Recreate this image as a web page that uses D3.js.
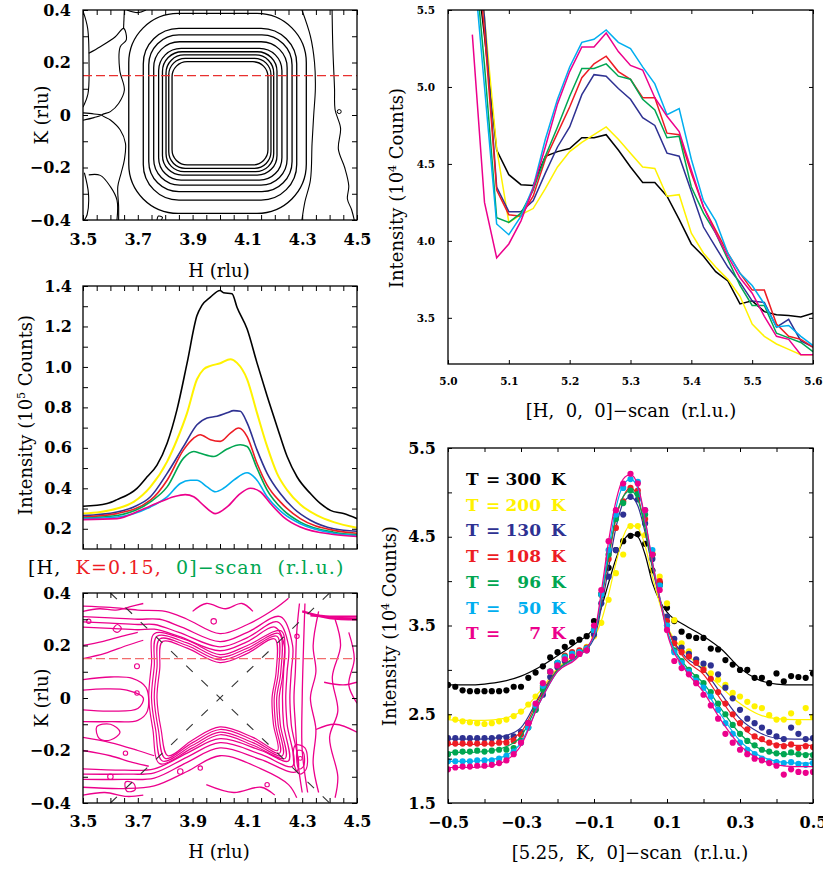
<!DOCTYPE html>
<html>
<head>
<meta charset="utf-8">
<script src="https://cdnjs.cloudflare.com/ajax/libs/d3/7.8.5/d3.min.js"></script>
<style>
  body { margin: 0; background: #fff; }
  svg { display: block; }
  text { font-family: "DejaVu Serif", serif; fill: #000; }
</style>
</head>
<body>
<svg id="fig" width="823" height="869"></svg>
<script>
// ---------- values ----------
var temps = ["300", "200", "130", "108", "96", "50", "7"];
var colors = ["#000000", "#fff200", "#2e3192", "#ed1c24", "#00a651", "#00aeef", "#ec008c"];

// top-left map, closed contours as boxes (H from/to, K from/to, corner radius)
var ringH0 = [3.825, 3.813, 3.803, 3.79, 3.776, 3.758, 3.74, 3.72, 3.667];
var ringH1 = [4.175, 4.186, 4.196, 4.208, 4.226, 4.245, 4.263, 4.28, 4.315];
var ringK0 = [-0.19, -0.203, -0.216, -0.229, -0.248, -0.267, -0.292, -0.324, -0.375];
var ringK1 = [0.203, 0.216, 0.229, 0.241, 0.254, 0.279, 0.305, 0.33, 0.387];
var ringR = [0.055, 0.06, 0.066, 0.072, 0.082, 0.095, 0.11, 0.13, 0.18];
// top-left map, open outer contours [H, K]
var openA = [
    [[3.521, 0.235], [3.563, 0.26], [3.618, 0.298], [3.648, 0.33], [3.658, 0.286], [3.636, 0.26], [3.634, 0.171], [3.651, 0.095], [3.63, 0.044], [3.6, 0.013], [3.569, 0.0], [3.6, -0.019], [3.636, -0.057], [3.655, -0.108], [3.651, -0.171], [3.639, -0.222], [3.627, -0.273], [3.63, -0.349], [3.63, -0.4]],
    [[3.648, 0.33], [3.651, 0.4]],
    [[3.502, 0.39], [3.517, 0.33], [3.522, 0.2], [3.518, 0.08], [3.5, 0.03]],
    [[3.5, 0.008], [3.54, 0.004], [3.569, 0.0], [3.54, -0.01], [3.5, -0.02]],
    [[3.505, -0.22], [3.52, -0.3], [3.515, -0.38], [3.505, -0.4]],
    [[3.521, -0.228], [3.563, -0.23], [3.6, -0.273], [3.624, -0.324], [3.624, -0.4]],
    [[4.299, 0.4], [4.33, 0.3], [4.345, 0.2], [4.348, 0.1], [4.342, 0.0], [4.336, -0.108], [4.33, -0.248], [4.31, -0.33], [4.299, -0.4]],
    [[4.409, 0.4], [4.412, 0.25], [4.418, 0.1], [4.42, 0.02], [4.44, -0.05], [4.432, -0.13], [4.455, -0.2], [4.47, -0.27], [4.465, -0.32], [4.48, -0.36], [4.49, -0.4]],
    [[3.77, -0.4], [3.775, -0.385], [3.79, -0.39], [3.785, -0.4]],
    [[3.66, 0.4], [3.7, 0.39], [3.73, 0.4]]
];

// middle-left: [H, I (1e5 counts)] per temperature
var b300 = [[3.5, 0.311], [3.588, 0.325], [3.624, 0.344], [3.697, 0.40], [3.734, 0.457], [3.77, 0.515], [3.807, 0.623], [3.843, 0.789], [3.88, 1.02], [3.916, 1.254], [3.934, 1.304], [3.965, 1.345], [4.0, 1.378], [4.013, 1.367], [4.044, 1.362], [4.062, 1.295], [4.099, 1.187], [4.135, 1.02], [4.172, 0.856], [4.208, 0.706], [4.245, 0.557], [4.281, 0.457], [4.33, 0.374], [4.366, 0.325], [4.403, 0.291], [4.451, 0.275], [4.5, 0.25]];
var b200 = [[3.5, 0.275], [3.563, 0.283], [3.624, 0.30], [3.685, 0.333], [3.746, 0.407], [3.807, 0.532], [3.843, 0.64], [3.88, 0.773], [3.916, 0.939], [3.94, 0.988], [3.965, 1.005], [4.001, 1.018], [4.038, 1.038], [4.062, 1.02], [4.099, 0.939], [4.135, 0.773], [4.172, 0.607], [4.208, 0.474], [4.245, 0.391], [4.293, 0.32], [4.354, 0.266], [4.415, 0.233], [4.5, 0.205]];
var b130 = [[3.5, 0.265], [3.624, 0.283], [3.685, 0.308], [3.746, 0.358], [3.807, 0.474], [3.867, 0.607], [3.916, 0.714], [3.953, 0.748], [3.989, 0.756], [4.026, 0.773], [4.05, 0.784], [4.074, 0.781], [4.099, 0.723], [4.135, 0.59], [4.172, 0.474], [4.22, 0.374], [4.269, 0.30], [4.33, 0.242], [4.415, 0.20], [4.5, 0.188]];
var b108 = [[3.5, 0.258], [3.624, 0.275], [3.746, 0.341], [3.807, 0.44], [3.867, 0.59], [3.904, 0.648], [3.928, 0.665], [3.965, 0.64], [4.001, 0.632], [4.038, 0.673], [4.068, 0.698], [4.099, 0.656], [4.135, 0.524], [4.172, 0.416], [4.22, 0.333], [4.293, 0.25], [4.415, 0.192], [4.5, 0.178]];
var b96 = [[3.5, 0.253], [3.624, 0.266], [3.746, 0.333], [3.807, 0.407], [3.867, 0.549], [3.904, 0.582], [3.928, 0.573], [3.977, 0.557], [4.026, 0.594], [4.074, 0.615], [4.099, 0.607], [4.135, 0.499], [4.172, 0.391], [4.232, 0.291], [4.293, 0.233], [4.415, 0.183], [4.5, 0.17]];
var b50 = [[3.5, 0.25], [3.624, 0.258], [3.746, 0.308], [3.807, 0.358], [3.855, 0.424], [3.892, 0.44], [3.916, 0.44], [3.953, 0.407], [3.983, 0.383], [4.013, 0.40], [4.05, 0.44], [4.099, 0.477], [4.135, 0.44], [4.172, 0.358], [4.232, 0.275], [4.293, 0.225], [4.415, 0.178], [4.5, 0.167]];
var b7 = [[3.5, 0.245], [3.624, 0.25], [3.709, 0.291], [3.782, 0.333], [3.831, 0.358], [3.873, 0.369], [3.904, 0.358], [3.94, 0.316], [3.983, 0.275], [4.026, 0.308], [4.074, 0.374], [4.111, 0.40], [4.147, 0.383], [4.184, 0.325], [4.232, 0.258], [4.293, 0.209], [4.415, 0.172], [4.5, 0.162]];

// bottom-left map (7 K), contours [H, K]
var holeC = [
    [[3.79, 0.215], [3.88, 0.19], [4.0, 0.135], [4.1, 0.17], [4.2, 0.225], [4.205, 0.1], [4.19, 0.0], [4.195, -0.1], [4.21, -0.2], [4.12, -0.15], [4.0, -0.11], [3.9, -0.16], [3.81, -0.22], [3.785, -0.12], [3.77, 0.0], [3.78, 0.11]],
    [[3.78, 0.225], [3.88, 0.2], [4.0, 0.145], [4.1, 0.18], [4.208, 0.235], [4.213, 0.1], [4.198, 0.0], [4.203, -0.1], [4.218, -0.21], [4.12, -0.16], [4.0, -0.12], [3.9, -0.17], [3.8, -0.23], [3.775, -0.12], [3.76, 0.0], [3.77, 0.115]],
    [[3.77, 0.235], [3.88, 0.21], [4.0, 0.155], [4.1, 0.19], [4.216, 0.245], [4.222, 0.1], [4.207, 0.0], [4.212, -0.1], [4.228, -0.22], [4.12, -0.17], [4.0, -0.13], [3.9, -0.18], [3.79, -0.24], [3.765, -0.12], [3.75, 0.0], [3.76, 0.12]],
    [[3.76, 0.245], [3.88, 0.22], [4.0, 0.165], [4.1, 0.2], [4.224, 0.255], [4.23, 0.1], [4.216, 0.0], [4.22, -0.1], [4.238, -0.23], [4.12, -0.18], [4.0, -0.14], [3.9, -0.19], [3.78, -0.25], [3.755, -0.12], [3.74, 0.0], [3.75, 0.13]]
];
var openC = [
    [[3.5, 0.27], [3.6, 0.265], [3.7, 0.26], [3.76, 0.262], [3.85, 0.235], [4.0, 0.18], [4.1, 0.215], [4.2, 0.27], [4.235, 0.2], [4.232, 0.1], [4.228, 0.0], [4.232, -0.1], [4.25, -0.24], [4.15, -0.2], [4.0, -0.155], [3.88, -0.21], [3.76, -0.27], [3.65, -0.275], [3.5, -0.27]],
    [[3.5, 0.29], [3.6, 0.285], [3.7, 0.28], [3.76, 0.28], [3.85, 0.25], [4.0, 0.195], [4.1, 0.23], [4.21, 0.29], [4.25, 0.2], [4.245, 0.1], [4.24, 0.0], [4.245, -0.1], [4.265, -0.26], [4.15, -0.215], [4.0, -0.17], [3.88, -0.225], [3.76, -0.285], [3.65, -0.29], [3.5, -0.29]],
    [[3.5, 0.31], [3.6, 0.305], [3.7, 0.30], [3.78, 0.30], [3.86, 0.27], [4.0, 0.215], [4.1, 0.25], [4.22, 0.31], [4.265, 0.2], [4.26, 0.1], [4.255, 0.0], [4.26, -0.1], [4.28, -0.28], [4.15, -0.235], [4.0, -0.19], [3.88, -0.245], [3.76, -0.305], [3.65, -0.31], [3.5, -0.31]],
    [[3.5, 0.35], [3.6, 0.345], [3.7, 0.335], [3.8, 0.33], [3.88, 0.3], [4.0, 0.245], [4.1, 0.28], [4.2, 0.34], [4.25, 0.38]],
    [[3.5, -0.34], [3.65, -0.345], [3.76, -0.335], [3.88, -0.28], [4.0, -0.22], [4.15, -0.27], [4.25, -0.33], [4.28, -0.38]],
    [[4.29, 0.36], [4.28, 0.25], [4.275, 0.1], [4.27, 0.0], [4.275, -0.1], [4.285, -0.25], [4.3, -0.36]],
    [[4.31, 0.36], [4.305, 0.2], [4.30, 0.0], [4.3, -0.2], [4.32, -0.36]],
    [[4.36, 0.33], [4.34, 0.2], [4.35, 0.1], [4.33, 0.0], [4.35, -0.12], [4.34, -0.25], [4.36, -0.36]],
    [[4.42, 0.3], [4.44, 0.2], [4.41, 0.08], [4.43, -0.05], [4.4, -0.15], [4.43, -0.3], [4.42, -0.38]],
    [[4.47, 0.25], [4.49, 0.15], [4.47, 0.05], [4.5, -0.02]],
    [[4.33, 0.315], [4.4, 0.31], [4.5, 0.31]],
    [[4.3, 0.33], [4.4, 0.305], [4.5, 0.3]],
    [[4.38, 0.06], [4.45, 0.05], [4.5, 0.06]],
    [[4.35, -0.12], [4.42, -0.1], [4.5, -0.13]],
    [[3.5, 0.03], [3.58, 0.035], [3.66, 0.03], [3.72, 0.0], [3.7, -0.04], [3.6, -0.05], [3.5, -0.045]],
    [[3.5, 0.07], [3.6, 0.08], [3.68, 0.075], [3.73, 0.04], [3.735, -0.05], [3.7, -0.085], [3.6, -0.09], [3.5, -0.09]],
    [[3.5, 0.15], [3.58, 0.17], [3.66, 0.2], [3.72, 0.22]],
    [[3.5, 0.2], [3.57, 0.215], [3.64, 0.235], [3.7, 0.25]],
    [[3.5, -0.15], [3.6, -0.17], [3.7, -0.2], [3.76, -0.22]],
    [[3.5, -0.2], [3.6, -0.22], [3.68, -0.245], [3.74, -0.26]],
    [[3.5, 0.33], [3.56, 0.34], [3.62, 0.335], [3.68, 0.35], [3.72, 0.36]],
    [[3.9, 0.33], [3.95, 0.36], [4.02, 0.34], [4.08, 0.36], [4.12, 0.33]],
    [[3.5, -0.37], [3.58, -0.36], [3.66, -0.375], [3.72, -0.37]],
    [[3.95, -0.33], [4.05, -0.36], [4.15, -0.34], [4.2, -0.37]]
];
var blobsC = [
    [[3.55, -0.11], [3.6, -0.1], [3.635, -0.13], [3.6, -0.16], [3.56, -0.155]],
    [[3.61, 0.26], [3.625, 0.28], [3.64, 0.265], [3.625, 0.25]],
    [[4.275, -0.18], [4.31, -0.19], [4.315, -0.27], [4.29, -0.29], [4.27, -0.25]],
    [[4.283, -0.2], [4.303, -0.205], [4.305, -0.26], [4.288, -0.27]],
    [[3.655, -0.32], [3.685, -0.325], [3.69, -0.35], [3.66, -0.355]]
];
var loopsC = [[3.521, 0.292, 0.008], [3.697, 0.121, 0.009], [3.697, 0.019, 0.008], [3.655, -0.21, 0.008], [3.6, -0.3, 0.01], [3.855, -0.28, 0.01], [3.928, -0.267, 0.008], [3.977, 0.292, 0.01], [4.172, -0.33, 0.008], [4.281, 0.235, 0.008], [4.293, -0.23, 0.007]];

// top-right: H-scan, I (1e4 counts)
var dH = [5.04, 5.06, 5.08, 5.10, 5.12, 5.14, 5.16, 5.18, 5.20, 5.22, 5.24, 5.26, 5.28, 5.30, 5.32, 5.34, 5.36, 5.38, 5.40, 5.42, 5.44, 5.46, 5.48, 5.50, 5.52, 5.54, 5.56, 5.58, 5.60];
var d300 = [6.0, 5.33, 4.59, 4.43, 4.365, 4.36, 4.55, 4.58, 4.60, 4.67, 4.67, 4.69, 4.59, 4.48, 4.38, 4.38, 4.29, 4.14, 3.98, 3.90, 3.80, 3.74, 3.59, 3.61, 3.54, 3.52, 3.515, 3.505, 3.53];
var d200 = [6.5, 5.45, 4.60, 4.12, 4.17, 4.21, 4.34, 4.48, 4.58, 4.64, 4.69, 4.74, 4.66, 4.57, 4.48, 4.47, 4.29, 4.30, 4.05, 3.92, 3.83, 3.75, 3.64, 3.46, 3.38, 3.33, 3.295, 3.26, 3.26];
var d130 = [6.2, 5.45, 4.35, 4.19, 4.19, 4.26, 4.44, 4.61, 4.74, 4.95, 5.08, 5.07, 4.99, 4.92, 4.80, 4.75, 4.57, 4.55, 4.32, 4.09, 3.96, 3.83, 3.73, 3.61, 3.60, 3.44, 3.49, 3.35, 3.31];
var d108 = [6.2, 5.36, 4.33, 4.17, 4.16, 4.29, 4.53, 4.70, 4.87, 5.06, 5.15, 5.20, 5.10, 5.05, 4.93, 4.93, 4.70, 4.69, 4.44, 4.22, 4.07, 3.92, 3.79, 3.68, 3.68, 3.46, 3.38, 3.36, 3.31];
var d96 = [6.0, 5.14, 4.15, 4.12, 4.18, 4.33, 4.55, 4.74, 4.94, 5.12, 5.12, 5.15, 5.07, 5.05, 4.92, 4.85, 4.67, 4.68, 4.35, 4.18, 4.05, 3.88, 3.71, 3.58, 3.58, 3.40, 3.37, 3.34, 3.28];
var d50 = [5.9, 5.0, 4.11, 4.04, 4.16, 4.35, 4.66, 4.92, 5.13, 5.29, 5.31, 5.37, 5.29, 5.25, 5.13, 5.02, 4.82, 4.86, 4.53, 4.26, 4.13, 3.92, 3.79, 3.71, 3.59, 3.44, 3.45, 3.38, 3.32];
var d7 = [5.34, 4.25, 3.89, 3.98, 4.13, 4.34, 4.61, 4.89, 5.10, 5.26, 5.26, 5.35, 5.23, 5.14, 5.11, 4.93, 4.81, 4.71, 4.46, 4.22, 4.05, 3.90, 3.76, 3.66, 3.51, 3.38, 3.36, 3.26, 3.26];

// bottom-right: K-scan points and fits, I (1e4 counts)
var eK = [-0.50, -0.48, -0.46, -0.44, -0.42, -0.40, -0.38, -0.36, -0.34, -0.32, -0.30, -0.28, -0.26, -0.24, -0.22, -0.20, -0.18, -0.16, -0.14, -0.12, -0.10, -0.08, -0.06, -0.04, -0.02, 0.00, 0.02, 0.04, 0.06, 0.08, 0.10, 0.12, 0.14, 0.16, 0.18, 0.20, 0.22, 0.24, 0.26, 0.28, 0.30, 0.32, 0.34, 0.36, 0.38, 0.40, 0.42, 0.44, 0.46, 0.48, 0.50];
var e300 = [2.83, 2.81, 2.77, 2.76, 2.76, 2.76, 2.76, 2.76, 2.77, 2.81, 2.81, 2.91, 2.97, 3.04, 3.14, 3.20, 3.26, 3.31, 3.34, 3.38, 3.55, 3.85, 4.15, 4.35, 4.45, 4.51, 4.53, 4.42, 4.12, 3.98, 3.70, 3.55, 3.43, 3.38, 3.36, 3.36, 3.24, 3.23, 3.11, 3.06, 3.00, 3.00, 2.91, 2.91, 2.85, 2.96, 2.87, 2.93, 2.92, 2.91, 2.96];
var e200 = [2.47, 2.44, 2.42, 2.41, 2.40, 2.39, 2.40, 2.42, 2.44, 2.48, 2.53, 2.61, 2.70, 2.82, 2.97, 3.07, 3.14, 3.19, 3.21, 3.26, 3.38, 3.53, 3.79, 4.09, 4.30, 4.62, 4.62, 4.52, 4.32, 4.05, 3.75, 3.56, 3.30, 3.21, 3.11, 3.02, 2.96, 2.89, 2.83, 2.74, 2.70, 2.64, 2.59, 2.57, 2.49, 2.44, 2.44, 2.51, 2.41, 2.57, 2.47];
var e130 = [2.23, 2.23, 2.23, 2.23, 2.23, 2.23, 2.23, 2.24, 2.24, 2.25, 2.30, 2.40, 2.55, 2.72, 2.92, 3.03, 3.10, 3.15, 3.18, 3.22, 3.40, 3.75, 4.05, 4.35, 4.75, 4.95, 4.92, 4.65, 4.25, 3.95, 3.60, 3.35, 3.25, 3.18, 3.12, 3.07, 3.05, 2.95, 2.80, 2.68, 2.55, 2.45, 2.40, 2.35, 2.30, 2.25, 2.22, 2.35, 2.28, 2.22, 2.23];
var e108 = [2.17, 2.17, 2.17, 2.17, 2.17, 2.17, 2.17, 2.18, 2.18, 2.20, 2.27, 2.40, 2.58, 2.80, 2.98, 3.08, 3.16, 3.20, 3.22, 3.25, 3.45, 3.85, 4.25, 4.60, 4.90, 5.05, 5.02, 4.70, 4.30, 4.00, 3.55, 3.30, 3.20, 3.15, 3.08, 3.00, 2.90, 2.75, 2.62, 2.50, 2.40, 2.33, 2.25, 2.22, 2.18, 2.15, 2.14, 2.16, 2.12, 2.14, 2.13];
var e96 = [2.05, 2.07, 2.08, 2.08, 2.09, 2.08, 2.09, 2.10, 2.10, 2.12, 2.20, 2.35, 2.55, 2.78, 2.98, 3.08, 3.15, 3.18, 3.20, 3.24, 3.45, 3.85, 4.30, 4.70, 4.88, 5.02, 4.98, 4.75, 4.30, 3.95, 3.50, 3.22, 3.10, 3.00, 2.92, 2.85, 2.75, 2.62, 2.50, 2.38, 2.28, 2.20, 2.15, 2.10, 2.08, 2.06, 2.05, 2.07, 2.05, 2.04, 2.04];
var e50 = [1.97, 1.97, 1.97, 1.97, 1.98, 1.98, 1.98, 2.00, 2.03, 2.08, 2.18, 2.35, 2.60, 2.82, 2.98, 3.08, 3.14, 3.18, 3.20, 3.24, 3.45, 3.85, 4.35, 4.75, 5.05, 5.15, 5.12, 4.80, 4.35, 3.95, 3.50, 3.20, 3.08, 2.98, 2.88, 2.80, 2.70, 2.55, 2.40, 2.28, 2.18, 2.10, 2.05, 2.00, 1.97, 1.96, 1.95, 1.96, 1.94, 1.93, 1.95];
var e7 = [1.88, 1.90, 1.91, 1.91, 1.92, 1.92, 1.93, 1.95, 1.98, 2.05, 2.18, 2.40, 2.62, 2.85, 2.98, 3.05, 3.12, 3.15, 3.18, 3.22, 3.50, 3.90, 4.45, 4.80, 5.10, 5.21, 5.10, 4.80, 4.30, 3.90, 3.45, 3.10, 3.02, 2.95, 2.85, 2.72, 2.60, 2.45, 2.28, 2.18, 2.10, 2.05, 2.00, 1.98, 1.95, 1.92, 1.82, 1.88, 1.85, 1.84, 1.85];
var fitK = [-0.5, -0.45, -0.4, -0.35, -0.3, -0.25, -0.2, -0.15, -0.1, -0.08, -0.06, -0.04, -0.02, 0, 0.02, 0.04, 0.06, 0.08, 0.1, 0.15, 0.2, 0.25, 0.3, 0.35, 0.4, 0.45, 0.5];
var f300 = [2.83, 2.83, 2.84, 2.87, 2.93, 3.03, 3.16, 3.30, 3.48, 3.70, 3.98, 4.25, 4.45, 4.53, 4.50, 4.30, 3.98, 3.78, 3.65, 3.50, 3.38, 3.23, 3.02, 2.89, 2.84, 2.83, 2.83];
var f200 = [2.44, 2.43, 2.43, 2.45, 2.53, 2.75, 3.02, 3.18, 3.36, 3.55, 3.85, 4.20, 4.50, 4.63, 4.60, 4.40, 4.05, 3.75, 3.50, 3.20, 3.00, 2.80, 2.62, 2.50, 2.45, 2.44, 2.44];
var f130 = [2.22, 2.22, 2.22, 2.25, 2.35, 2.70, 3.00, 3.14, 3.35, 3.70, 4.15, 4.60, 4.88, 4.95, 4.85, 4.55, 4.15, 3.80, 3.50, 3.15, 3.00, 2.72, 2.45, 2.30, 2.23, 2.22, 2.22];
var f108 = [2.16, 2.16, 2.16, 2.19, 2.30, 2.68, 3.00, 3.15, 3.38, 3.78, 4.25, 4.70, 4.95, 5.05, 4.95, 4.60, 4.18, 3.82, 3.50, 3.12, 2.95, 2.65, 2.38, 2.22, 2.16, 2.15, 2.15];
var f96 = [2.07, 2.07, 2.08, 2.12, 2.25, 2.65, 3.00, 3.15, 3.38, 3.80, 4.28, 4.72, 4.95, 5.02, 4.92, 4.60, 4.18, 3.80, 3.45, 3.05, 2.85, 2.55, 2.28, 2.12, 2.06, 2.05, 2.05];
var f50 = [1.97, 1.97, 1.98, 2.02, 2.18, 2.62, 2.98, 3.13, 3.38, 3.82, 4.35, 4.82, 5.08, 5.15, 5.05, 4.68, 4.22, 3.82, 3.45, 3.02, 2.80, 2.48, 2.20, 2.04, 1.97, 1.95, 1.95];
var f7 = [1.90, 1.90, 1.91, 1.96, 2.15, 2.62, 2.98, 3.12, 3.40, 3.88, 4.45, 4.90, 5.15, 5.20, 5.08, 4.70, 4.22, 3.80, 3.42, 3.00, 2.75, 2.42, 2.15, 2.00, 1.93, 1.91, 1.91];

var scanB = [b300, b200, b130, b108, b96, b50, b7];
var scanD = [d300, d200, d130, d108, d96, d50, d7];
var dotsE = [e300, e200, e130, e108, e96, e50, e7];
var fitsE = [f300, f200, f130, f108, f96, f50, f7];

// ---------- drawing ----------
var svg = d3.select("#fig");
var defs = svg.append("defs");

function fmt(d, n) {
    if (Math.abs(d) < 1e-9) return "0";
    return (d < 0 ? "\u2212" : "") + Math.abs(d).toFixed(n);
}

function inList(list, d) {
    return list.some(function (v) { return Math.abs(v - d) < 1e-6; });
}

function steps(a, b, s) {
    var out = [];
    for (var i = 0; a + i * s <= b + 1e-9; i++) out.push(+(a + i * s).toFixed(4));
    return out;
}

// box with inward ticks on all four sides, labels bottom and left
function frame(x, y, o) {
    var g = svg.append("g");
    var x0 = x.range()[0], x1 = x.range()[1], yb = y.range()[0], yt = y.range()[1];
    var fx = function (d) { return inList(o.xLab, d) ? fmt(d, o.xDig) : ""; };
    var fy = function (d) { return inList(o.yLab, d) ? fmt(d, o.yDig) : ""; };
    var axes = [
        [d3.axisBottom(x).tickFormat(fx).tickPadding(o.xPad), "translate(0," + yb + ")", o.xTicks],
        [d3.axisTop(x).tickFormat(""), "translate(0," + yt + ")", o.xTicks],
        [d3.axisLeft(y).tickFormat(fy).tickPadding(o.yPad), "translate(" + x0 + ",0)", o.yTicks],
        [d3.axisRight(y).tickFormat(""), "translate(" + x1 + ",0)", o.yTicks]
    ];
    axes.forEach(function (a) {
        var ax = g.append("g").attr("transform", a[1])
            .call(a[0].tickValues(a[2]).tickSize(-o.tick));
        ax.attr("font-family", null).attr("font-size", null);
        ax.select(".domain").remove();
        ax.selectAll("line").attr("stroke", "#000").attr("stroke-width", 1);
        ax.selectAll("text").style("font-size", o.font + "px").style("font-weight", "bold");
    });
    g.append("rect")
        .attr("x", x0).attr("y", yt)
        .attr("width", x1 - x0).attr("height", yb - yt)
        .attr("fill", "none").attr("stroke", "#000").attr("stroke-width", 1.3);
}

function clip(id, x, y) {
    defs.append("clipPath").attr("id", id).append("rect")
        .attr("x", x.range()[0]).attr("y", y.range()[1])
        .attr("width", x.range()[1] - x.range()[0])
        .attr("height", y.range()[0] - y.range()[1]);
    return svg.append("g").attr("clip-path", "url(#" + id + ")");
}

function label(x, y, str, size, rotate) {
    return svg.append("text")
        .attr("transform", "translate(" + x + "," + y + ")" + (rotate ? " rotate(-90)" : ""))
        .attr("text-anchor", "middle")
        .style("font-size", size + "px")
        .style("white-space", "pre")
        .text(str);
}

function intensityLabel(x, y, power) {
    var t = svg.append("text")
        .attr("transform", "translate(" + x + "," + y + ") rotate(-90)")
        .attr("text-anchor", "middle")
        .style("font-size", "18px");
    t.append("tspan").text("Intensity (10");
    t.append("tspan").attr("dy", -7).style("font-size", "11px").text(power);
    t.append("tspan").attr("dy", 7).text(" Counts)");
}

var hTicks = steps(3.5, 4.5, 0.05);
var kTicks = steps(-0.4, 0.4, 0.1);

// ===== top-left: map =====
var xA = d3.scaleLinear().domain([3.5, 4.5]).range([83, 357]);
var yA = d3.scaleLinear().domain([-0.4, 0.4]).range([220, 10]);
var gA = clip("clipA", xA, yA);

gA.selectAll("path.ring")
    .data(ringH0)
    .enter().append("path")
    .attr("class", "ring")
    .attr("d", function (d, i) {
        var x0 = xA(ringH0[i]), x1 = xA(ringH1[i]), y0 = yA(ringK1[i]), y1 = yA(ringK0[i]);
        var r = xA(3.5 + ringR[i]) - xA(3.5);
        var p = d3.path();
        p.moveTo(x0 + r, y0);
        p.lineTo(x1 - r, y0);
        p.arcTo(x1, y0, x1, y0 + r, r);
        p.lineTo(x1, y1 - r);
        p.arcTo(x1, y1, x1 - r, y1, r);
        p.lineTo(x0 + r, y1);
        p.arcTo(x0, y1, x0, y1 - r, r);
        p.lineTo(x0, y0 + r);
        p.arcTo(x0, y0, x0 + r, y0, r);
        p.closePath();
        return p.toString();
    })
    .attr("fill", "none").attr("stroke", "#000").attr("stroke-width", 1.3);

var lineA = d3.line()
    .x(function (d) { return xA(d[0]); })
    .y(function (d) { return yA(d[1]); })
    .curve(d3.curveCatmullRom);

gA.selectAll("path.open")
    .data(openA)
    .enter().append("path")
    .attr("class", "open")
    .attr("d", lineA)
    .attr("fill", "none").attr("stroke", "#000").attr("stroke-width", 1.1);

gA.append("circle")
    .attr("cx", xA(4.435)).attr("cy", yA(0.013)).attr("r", 2)
    .attr("fill", "none").attr("stroke", "#000");

gA.append("line")
    .attr("x1", xA(3.5)).attr("x2", xA(4.5))
    .attr("y1", yA(0.15)).attr("y2", yA(0.15))
    .attr("stroke", "#e8302f").attr("stroke-width", 1.2).attr("stroke-dasharray", "9,4");

frame(xA, yA, {xTicks: hTicks, yTicks: kTicks, xLab: [3.5, 3.7, 3.9, 4.1, 4.3, 4.5], yLab: [-0.4, -0.2, 0, 0.2, 0.4],
    xDig: 1, yDig: 1, xPad: 14, yPad: 12, tick: 5, font: 16});
label(219, 277, "H (rlu)", 18);
label(48, 115, "K (rlu)", 18, true);

// ===== middle-left: H cuts =====
var xB = d3.scaleLinear().domain([3.5, 4.5]).range([83, 357]);
var yB = d3.scaleLinear().domain([0.1, 1.4]).range([549, 286]);
var gB = clip("clipB", xB, yB);

var lineB = d3.line()
    .x(function (d) { return xB(d[0]); })
    .y(function (d) { return yB(d[1]); })
    .curve(d3.curveMonotoneX);

gB.selectAll("path")
    .data(scanB)
    .enter().append("path")
    .attr("d", lineB)
    .attr("fill", "none")
    .attr("stroke", function (d, i) { return colors[i]; })
    .attr("stroke-width", function (d, i) { return i === 1 ? 2 : 1.6; });

frame(xB, yB, {xTicks: hTicks, yTicks: steps(0.2, 1.4, 0.1), xLab: [], yLab: steps(0.2, 1.4, 0.2),
    xDig: 1, yDig: 1, xPad: 9, yPad: 11, tick: 5, font: 16});
intensityLabel(32, 415, "5");

var tB = svg.append("text").attr("x", 28).attr("y", 574)
    .style("font-size", "19px").style("letter-spacing", "1.1px").style("white-space", "pre");
tB.append("tspan").text("[H,  ");
tB.append("tspan").style("fill", "#ed1c24").text("K=0.15,  ");
tB.append("tspan").style("fill", "#00a651").text("0]\u2212scan  (r.l.u.)");

// ===== bottom-left: map at 7 K =====
var xC = d3.scaleLinear().domain([3.5, 4.5]).range([83, 357]);
var yC = d3.scaleLinear().domain([-0.4, 0.4]).range([803, 593]);
var gC = clip("clipC", xC, yC);

var closedC = d3.line()
    .x(function (d) { return xC(d[0]); })
    .y(function (d) { return yC(d[1]); })
    .curve(d3.curveCatmullRomClosed);
var openLineC = d3.line()
    .x(function (d) { return xC(d[0]); })
    .y(function (d) { return yC(d[1]); })
    .curve(d3.curveCatmullRom);

gC.selectAll("path.open")
    .data(openC)
    .enter().append("path")
    .attr("class", "open")
    .attr("d", openLineC)
    .attr("fill", "none").attr("stroke", "#ec008c")
    .attr("stroke-width", function (d, i) { return (i === 10 || i === 11) ? 2.4 : 1.3; });

gC.selectAll("path.hole")
    .data(holeC.concat(blobsC))
    .enter().append("path")
    .attr("class", "hole")
    .attr("d", closedC)
    .attr("fill", "none").attr("stroke", "#ec008c").attr("stroke-width", 1.2);

gC.selectAll("circle")
    .data(loopsC)
    .enter().append("circle")
    .attr("cx", function (d) { return xC(d[0]); })
    .attr("cy", function (d) { return yC(d[1]); })
    .attr("r", function (d) { return xC(3.5 + d[2]) - xC(3.5); })
    .attr("fill", "none").attr("stroke", "#ec008c").attr("stroke-width", 1.1);

gC.append("line")
    .attr("x1", xC(3.5)).attr("x2", xC(4.5))
    .attr("y1", yC(0.15)).attr("y2", yC(0.15))
    .attr("stroke", "#f26d6d").attr("stroke-width", 1.2).attr("stroke-dasharray", "9,4");

var diagC = [[[3.6, 0.4], [4.4, -0.4]], [[3.6, -0.4], [4.4, 0.4]]];
svg.append("g").selectAll("line")
    .data(diagC)
    .enter().append("line")
    .attr("x1", function (d) { return xC(d[0][0]); })
    .attr("y1", function (d) { return yC(d[0][1]); })
    .attr("x2", function (d) { return xC(d[1][0]); })
    .attr("y2", function (d) { return yC(d[1][1]); })
    .attr("stroke", "#333").attr("stroke-width", 1.1).attr("stroke-dasharray", "9,12");

frame(xC, yC, {xTicks: hTicks, yTicks: kTicks, xLab: [3.5, 3.7, 3.9, 4.1, 4.3, 4.5], yLab: [-0.4, -0.2, 0, 0.2, 0.4],
    xDig: 1, yDig: 1, xPad: 13, yPad: 12, tick: 5, font: 16});
label(219, 858, "H (rlu)", 18);
label(48, 698, "K (rlu)", 18, true);

// ===== top-right: H scan =====
var xD = d3.scaleLinear().domain([5.0, 5.6]).range([448, 813]);
var yD = d3.scaleLinear().domain([3.2, 5.5]).range([364, 10]);
var gD = clip("clipD", xD, yD);

var lineD = d3.line()
    .x(function (d) { return xD(d[0]); })
    .y(function (d) { return yD(d[1]); });

gD.selectAll("path")
    .data(scanD)
    .enter().append("path")
    .attr("d", function (s) {
        return lineD(s.map(function (v, i) { return [dH[i], v]; }));
    })
    .attr("fill", "none")
    .attr("stroke", function (d, i) { return colors[i]; })
    .attr("stroke-width", 1.5);

frame(xD, yD, {xTicks: steps(5.0, 5.6, 0.1), yTicks: steps(3.5, 5.5, 0.5), xLab: steps(5.0, 5.6, 0.1), yLab: steps(3.5, 5.5, 0.5),
    xDig: 1, yDig: 1, xPad: 14, yPad: 13, tick: 4, font: 10.5});
label(631, 417, "[H,  0,  0]\u2212scan  (r.l.u.)", 18);
intensityLabel(403, 188, "4");

// ===== bottom-right: K scan =====
var xE = d3.scaleLinear().domain([-0.5, 0.5]).range([448, 813]);
var yE = d3.scaleLinear().domain([1.5, 5.5]).range([803, 448]);
var gE = clip("clipE", xE, yE);

var lineE = d3.line()
    .x(function (d) { return xE(d[0]); })
    .y(function (d) { return yE(d[1]); })
    .curve(d3.curveMonotoneX);

var seriesE = gE.selectAll("g.series")
    .data(temps)
    .enter().append("g")
    .attr("class", "series");

seriesE.append("path")
    .attr("d", function (d, i) {
        return lineE(fitsE[i].map(function (v, j) { return [fitK[j], v]; }));
    })
    .attr("fill", "none")
    .attr("stroke", function (d, i) { return colors[i]; })
    .attr("stroke-width", 1.2);

seriesE.each(function (d, i) {
    d3.select(this).selectAll("circle")
        .data(dotsE[i])
        .enter().append("circle")
        .attr("cx", function (v, j) { return xE(eK[j]); })
        .attr("cy", function (v) { return yE(v); })
        .attr("r", 3.1)
        .attr("fill", colors[i]);
});

frame(xE, yE, {xTicks: steps(-0.5, 0.5, 0.1), yTicks: steps(1.5, 5.5, 0.5), xLab: [-0.5, -0.3, -0.1, 0.1, 0.3, 0.5], yLab: [1.5, 2.5, 3.5, 4.5, 5.5],
    xDig: 1, yDig: 1, xPad: 14, yPad: 12, tick: 4, font: 16});
label(630, 859, "[5.25,  K,  0]\u2212scan  (r.l.u.)", 18);
intensityLabel(396, 626, "4");

// legend
var legend = svg.append("g")
    .selectAll("g")
    .data(temps)
    .enter().append("g")
    .attr("transform", function (d, i) { return "translate(0," + (485 + i * 25.7) + ")"; })
    .style("font-size", "17px").style("font-weight", "bold");

legend.append("text").attr("x", 466).text("T").style("fill", function (d, i) { return colors[i]; });
legend.append("text").attr("x", 493).attr("text-anchor", "middle").text("=").style("fill", function (d, i) { return colors[i]; });
legend.append("text").attr("x", 541).attr("text-anchor", "end").text(function (d) { return d; }).style("fill", function (d, i) { return colors[i]; });
legend.append("text").attr("x", 551).text("K").style("fill", function (d, i) { return colors[i]; });
</script>
</body>
</html>
